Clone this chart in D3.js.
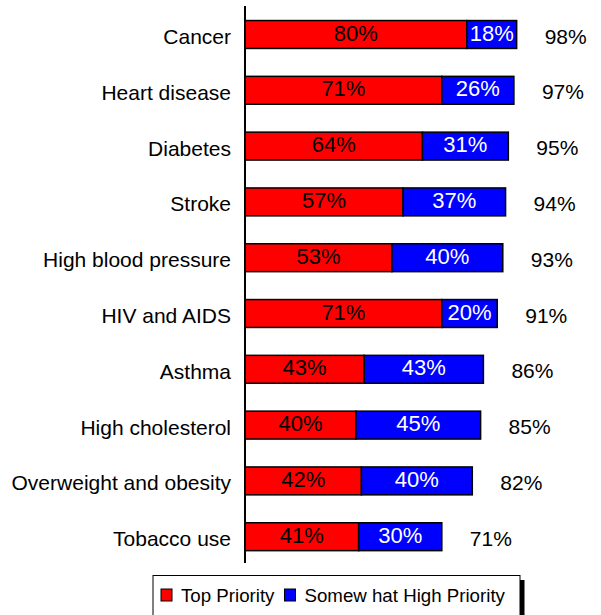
<!DOCTYPE html>
<html>
<head>
<meta charset="utf-8">
<script src="https://cdn.jsdelivr.net/npm/d3@7"></script>
<style>
  html, body { margin: 0; padding: 0; background: #fff; }
  svg { display: block; font-family: Arial, "Liberation Sans", sans-serif; }
</style>
</head>
<body>
<div id="chart"></div>
<script>
// Health priorities: stacked horizontal bars (top / somewhat high priority)
const categories = ['Cancer', 'Heart disease', 'Diabetes', 'Stroke', 'High blood pressure',
  'HIV and AIDS', 'Asthma', 'High cholesterol', 'Overweight and obesity', 'Tobacco use'];
const topPriority = [80, 71, 64, 57, 53, 71, 43, 40, 42, 41];
const somewhatHigh = [18, 26, 31, 37, 40, 20, 43, 45, 40, 30];
const totals = [98, 97, 95, 94, 93, 91, 86, 85, 82, 71];
const seriesNames = ['Top Priority', 'Somew hat High Priority'];
const seriesKeys = ['top', 'some'];

(function () {
  const width = 601, height = 615;
  const colors = { top: '#ff0000', some: '#0000ff' };
  const textColors = { top: '#000', some: '#fff' };

  const rows = categories.map((c, i) => ({ cat: c, top: topPriority[i], some: somewhatHigh[i], total: totals[i] }));

  const svg = d3.select('#chart').append('svg').attr('width', width).attr('height', height);

  const x = d3.scaleLinear().domain([0, 100]).range([245, 522.2]);
  const y = d3.scaleBand().domain(categories).range([6.6, 564.6]).paddingInner(0.5).paddingOuter(0.25);

  const stacked = d3.stack().keys(seriesKeys)(rows);

  // bars
  const layers = svg.selectAll('g.layer').data(stacked).join('g').attr('class', 'layer');
  layers.selectAll('rect').data(d => d.map(p => Object.assign(p, { key: d.key }))).join('rect')
    .attr('x', d => x(d[0]))
    .attr('y', d => y(d.data.cat))
    .attr('width', d => x(d[1]) - x(d[0]))
    .attr('height', y.bandwidth())
    .attr('fill', d => colors[d.key])
    .attr('stroke', '#000')
    .attr('stroke-width', 1.5);

  // segment labels, centred in each segment
  layers.selectAll('text').data(d => d).join('text')
    .attr('x', d => (x(d[0]) + x(d[1])) / 2)
    .attr('y', d => y(d.data.cat) + y.bandwidth() / 2 + 6)
    .attr('text-anchor', 'middle')
    .style('font-size', '22px')
    .attr('fill', d => textColors[d.key])
    .text(d => (d[1] - d[0]) + '%');

  // totals to the right of each bar
  svg.append('g').selectAll('text').data(rows).join('text')
    .attr('x', d => x(d.total) + 28)
    .attr('y', d => y(d.cat) + y.bandwidth() / 2 + 9)
    .style('font-size', '21px')
    .attr('fill', '#000')
    .text(d => d.total + '%');

  // category axis
  const axis = svg.append('g').attr('transform', `translate(${x(0)},0)`)
    .call(d3.axisLeft(y).tickSize(0).tickPadding(14));
  axis.select('.domain').attr('d', `M0,6V563`).attr('stroke', '#000').attr('stroke-width', 2);
  axis.selectAll('text').style('font-size', '21px').attr('fill', '#000').attr('font-family', null).attr('dy', '0.45em');
  axis.attr('font-family', null).attr('font-size', null);

  // legend with drop shadow
  const lg = svg.append('g');
  lg.append('rect').attr('x', 157).attr('y', 580).attr('width', 367.5).attr('height', 60).attr('fill', '#000');
  lg.append('rect').attr('x', 153).attr('y', 575.5).attr('width', 367).attr('height', 60)
    .attr('fill', '#fff').attr('stroke', '#000').attr('stroke-width', 1);

  let lx = 161;
  seriesKeys.forEach((k, i) => {
    lg.append('rect').attr('x', lx).attr('y', 589).attr('width', 11).attr('height', 12)
      .attr('fill', colors[k]).attr('stroke', '#000').attr('stroke-width', 1);
    const t = lg.append('text').attr('x', lx + 20).attr('y', 601.5)
      .style('font-size', '18.7px').attr('fill', '#000').text(seriesNames[i]);
    lx += 20 + t.node().getComputedTextLength() + 10;
  });
})();
</script>
</body>
</html>
